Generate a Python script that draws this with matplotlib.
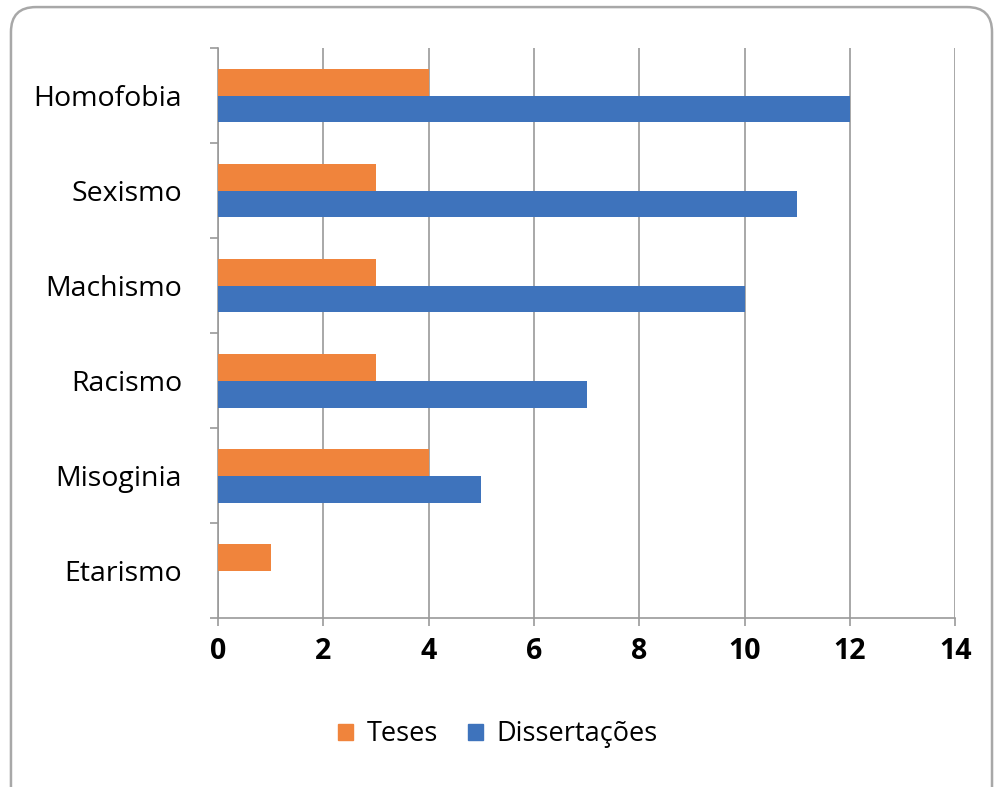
import numpy as np
from matplotlib import pyplot as plt
from matplotlib.patches import FancyBboxPatch, Patch

# data (bottom to top)
categories = ["Etarismo", "Misoginia", "Racismo", "Machismo", "Sexismo", "Homofobia"]
teses = [1, 4, 3, 3, 3, 4]
dissertacoes = [0, 5, 7, 10, 11, 12]
x_ticks = [0, 2, 4, 6, 8, 10, 12, 14]

orange = "#F0843C"
blue = "#3E73BC"
grey = "#9a9a9a"

plt.rcParams["font.family"] = ["Open Sans", "DejaVu Sans"]

fig = plt.figure(figsize=(9.96, 7.87), dpi=100)

# rounded outer frame (bottom runs off the picture)
frame = FancyBboxPatch((0.011, -0.05), 0.985, 0.991 + 0.05,
                       boxstyle="round,pad=0,rounding_size=0.025",
                       transform=fig.transFigure, fill=False,
                       edgecolor="#a8a8a8", linewidth=1.8, mutation_aspect=996 / 787)
fig.patches.append(frame)

ax = fig.add_axes([0.219, 0.2147, 0.740, 0.7243])

y = np.arange(len(categories))
h = 0.284
ax.barh(y + h / 2, teses, height=h, color=orange, label="Teses", zorder=3)
ax.barh(y - h / 2, dissertacoes, height=h, color=blue, label="Dissertações", zorder=3)

ax.set_xlim(0, 14)
ax.set_ylim(-0.5, len(categories) - 0.5)
ax.set_xticks(x_ticks)
ax.set_xticklabels([str(t) for t in x_ticks], fontsize=20.5, fontweight="bold")
ax.set_yticks(y)
ax.set_yticklabels(categories, fontsize=20.5)
ax.set_yticks(np.arange(-0.5, len(categories)), minor=True)
ax.tick_params(axis="y", which="major", length=0, pad=26)
ax.tick_params(axis="y", which="minor", length=6, color=grey, width=1.2)
ax.tick_params(axis="x", length=6, color=grey, width=1.2, pad=8)

ax.grid(axis="x", color=grey, linewidth=1.2, zorder=0)
for side in ["top", "right"]:
    ax.spines[side].set_visible(False)
for side in ["left", "bottom"]:
    ax.spines[side].set_color(grey)
    ax.spines[side].set_linewidth(1.2)

handles = [Patch(color=orange, label="Teses"), Patch(color=blue, label="Dissertações")]
fig.legend(handles=handles, loc="center", bbox_to_anchor=(0.5, 0.067), ncol=2,
           frameon=False, fontsize=19.5, handlelength=0.55, handleheight=0.55,
           handletextpad=0.5, columnspacing=1.1)

fig.savefig("out.png", dpi=100)
